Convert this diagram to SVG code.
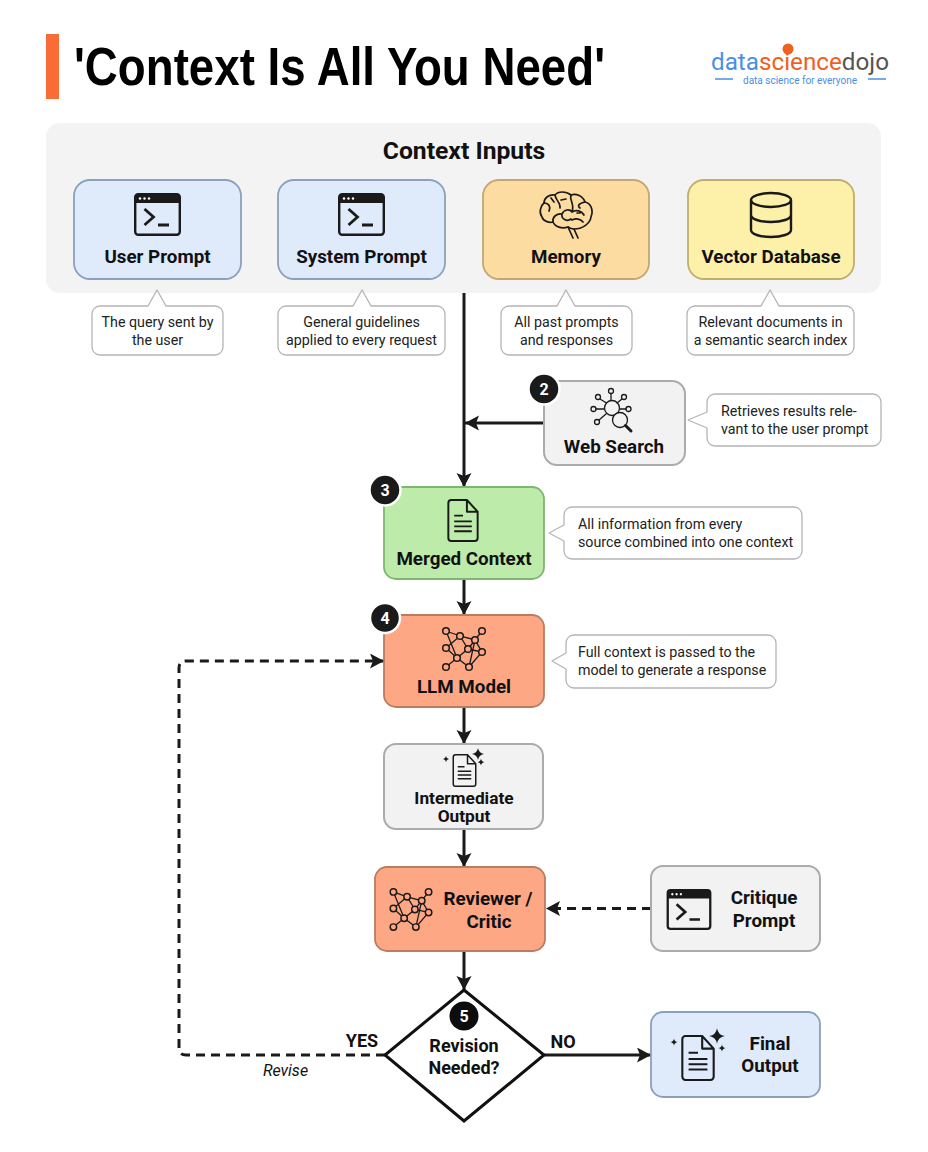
<svg xmlns="http://www.w3.org/2000/svg" xmlns:xlink="http://www.w3.org/1999/xlink" width="928" height="1152" viewBox="0 0 928 1152">
<style>
text{font-family:Roboto,"Liberation Sans",sans-serif;fill:#111}
.lbl{font-size:18.8px;font-weight:700;text-anchor:middle}
.cap{font-size:14.25px;fill:#222}
.mid{text-anchor:middle}
.call{fill:#fff;stroke:#b5b5b5;stroke-width:1.3;stroke-linejoin:round}
.blue{fill:#dfeafb;stroke:#8aa0bd;stroke-width:1.8}
.orange{fill:#fddca2;stroke:#c3a772;stroke-width:1.8}
.yellow{fill:#fdf0a8;stroke:#bfae6e;stroke-width:1.8}
.gray{fill:#f2f2f2;stroke:#ababab;stroke-width:2}
.green{fill:#bdeba9;stroke:#7fb772;stroke-width:1.8}
.red{fill:#fda785;stroke:#bb7c63;stroke-width:1.8}
.badge circle{fill:#1a1a1a;stroke:#fff;stroke-width:2.5}
.badge text{fill:#fff;font-size:16px;font-weight:700;text-anchor:middle}
.ln{fill:none;stroke:#1a1a1a;stroke-width:3}
.dash{fill:none;stroke:#1a1a1a;stroke-width:3;stroke-dasharray:9 6}
.ic{fill:none;stroke:#1a1a1a;stroke-width:2;stroke-linejoin:round;stroke-linecap:round}
</style>
<defs>
<marker id="arr" markerUnits="userSpaceOnUse" markerWidth="16" markerHeight="16" refX="14" refY="7.5" orient="auto"><path d="M0 0L14 7.5L0 15L3 7.5Z" fill="#1a1a1a"/></marker>
<symbol id="term" viewBox="0 0 47 43" overflow="visible">
<rect x="1.2" y="1.2" width="44.6" height="40.6" rx="3" fill="none" stroke="#1a1a1a" stroke-width="2.4"/>
<path d="M1 4a3 3 0 0 1 3-3h39a3 3 0 0 1 3 3v6H1Z" fill="#1a1a1a"/>
<circle cx="6" cy="5.5" r="1.2" fill="#fff"/><circle cx="10.500" cy="5.5" r="1.2" fill="#fff"/><circle cx="15" cy="5.5" r="1.2" fill="#fff"/>
<path d="M10.500 16L19.500 24L10.500 32M24 32H35" fill="none" stroke="#1a1a1a" stroke-width="2.800"/>
</symbol>
<symbol id="net" viewBox="0 0 44 44" overflow="visible">
<path d="M4 4L18 9L33 13L40 4M18 9L4 21L15 31L4 40M18 9L26 22L33 13L40 25L27 40L15 31L26 22L40 25M33 13L27 40M4 4L15 31" fill="none" stroke="#1a1a1a" stroke-width="1.300"/>
<g fill="#fda785" stroke="#1a1a1a" stroke-width="1.500">
<circle cx="4" cy="4" r="3.300"/><circle cx="40" cy="4" r="3.300"/><circle cx="18" cy="9" r="3.300"/><circle cx="33" cy="13" r="3.300"/><circle cx="4" cy="21" r="3.300"/><circle cx="26" cy="22" r="3.300"/><circle cx="40" cy="25" r="3.300"/><circle cx="15" cy="31" r="3.300"/><circle cx="4" cy="40" r="3.300"/><circle cx="27" cy="40" r="3.300"/>
</g>
</symbol>
<symbol id="doc" viewBox="0 0 32 44" overflow="visible">
<path d="M4 1H20L31 13V40a3 3 0 0 1-3 3H4a3 3 0 0 1-3-3V4a3 3 0 0 1 3-3ZM20 1V13H31" fill="none" stroke="#1a1a1a" stroke-width="2" stroke-linejoin="round"/>
<path d="M7 17H16M7 23H25M7 28H25M7 33H25" fill="none" stroke="#1a1a1a" stroke-width="1.800"/>
</symbol>
<path id="star" d="M0-6Q.8-.8 6 0Q.8.8 0 6Q-.8.8-6 0Q-.8-.8 0-6Z" fill="#1a1a1a"/>
</defs>

<rect width="928" height="1152" fill="#fff"/>
<g id="header">
<rect x="46" y="34" width="13" height="65" fill="#f96c36"/>
<text x="74" y="85" font-size="53" font-weight="700" style="font-family:'Liberation Sans',Arial,sans-serif;fill:#000" textLength="531" lengthAdjust="spacingAndGlyphs">'Context Is All You Need'</text>
</g>
<g id="logo">
<text x="711" y="69.500" font-size="23" textLength="178" lengthAdjust="spacingAndGlyphs"><tspan style="fill:#4a8fe3">data</tspan><tspan style="fill:#f0601f">science</tspan><tspan style="fill:#555">dojo</tspan></text>
<circle cx="788" cy="49" r="5.500" fill="#f0601f"/>
<path d="M715 79H733M868 79H886" stroke="#4a8fe3" stroke-width="1.500"/>
<text x="800" y="84" class="mid" font-size="10" style="fill:#4a8fe3">data science for everyone</text>
</g>

<g id="context-inputs">
<rect x="46" y="123" width="835" height="170" rx="14" fill="#f3f3f3"/>
<text x="464" y="159" class="mid" font-size="24.700" font-weight="700">Context Inputs</text>
</g>

<g id="connectors">
<path class="ln" d="M464 293V487" marker-end="url(#arr)"/>
<path class="ln" d="M544 423H465" marker-end="url(#arr)"/>
<path class="ln" d="M464 579V615" marker-end="url(#arr)"/>
<path class="ln" d="M464 707V744" marker-end="url(#arr)"/>
<path class="ln" d="M464 829V867" marker-end="url(#arr)"/>
<path class="ln" d="M464 951V990" marker-end="url(#arr)"/>
<path class="dash" d="M651 908.500H546" marker-end="url(#arr)"/>
<path class="ln" d="M544 1055H651" marker-end="url(#arr)"/>
<path class="dash" d="M385 1055H186Q179 1055 179 1048V668Q179 661 186 661H384" marker-end="url(#arr)"/>
</g>

<g id="user-prompt">
<rect class="blue" x="74" y="180" width="167" height="99" rx="16"/>
<use xlink:href="#term" x="134" y="193" width="47" height="43"/>
<text class="lbl" x="157.500" y="263">User Prompt</text>
</g>
<g id="user-prompt-note">
<path class="call" d="M100 306H148L157 290L166 306H215a8 8 0 0 1 8 8V347a8 8 0 0 1-8 8H100a8 8 0 0 1-8-8V314a8 8 0 0 1 8-8Z"/>
<text class="cap mid" x="157.500" y="327">The query sent by</text><text class="cap mid" x="157.500" y="345">the user</text>
</g>
<g id="system-prompt">
<rect class="blue" x="278" y="180" width="167" height="99" rx="16"/>
<use xlink:href="#term" x="338" y="193" width="47" height="43"/>
<text class="lbl" x="361.500" y="263">System Prompt</text>
</g>
<g id="system-prompt-note">
<path class="call" d="M286 306H353L362 290L371 306H437a8 8 0 0 1 8 8V347a8 8 0 0 1-8 8H286a8 8 0 0 1-8-8V314a8 8 0 0 1 8-8Z"/>
<text class="cap mid" x="361.500" y="327">General guidelines</text><text class="cap mid" x="361.500" y="345">applied to every request</text>
</g>
<g id="memory">
<rect class="orange" x="483" y="180" width="166" height="99" rx="16"/>
<g class="ic" style="stroke-width:1.700">
<path d="M574 229C582 229 590 224 591 217C594 209 590 203 585 202C583 196 576 193 571 195C566 191 558 191 555 195C549 194 544 198 544 203C540 206 539 213 542 217C543 221 549 223 553 222C555 227 562 229 568 227C571 229 573 229 574 229Z"/>
<path d="M568 227L573 238M574 229L578 238M553 222C552 217 557 213 562 214C564 209 570 209 572 212C576 209 582 211 584 215M555 195C556 201 561 203 560 208M571 195C569 200 575 204 572 212M544 203C549 203 551 207 549 211M585 202C579 203 577 206 580 208M562 214C561 219 567 222 571 219M572 220C576 218 581 219 583 222M551 198L554 202M561 200L566 199M577 213L580 213"/>
</g>
<text class="lbl" x="566" y="263">Memory</text>
</g>
<g id="memory-note">
<path class="call" d="M509 306H557L566 290L575 306H624a8 8 0 0 1 8 8V347a8 8 0 0 1-8 8H509a8 8 0 0 1-8-8V314a8 8 0 0 1 8-8Z"/>
<text class="cap mid" x="566.500" y="327">All past prompts</text><text class="cap mid" x="566.500" y="345">and responses</text>
</g>
<g id="vector-database">
<rect class="yellow" x="688" y="180" width="166" height="99" rx="16"/>
<g fill="none" stroke="#1a1a1a" stroke-width="2.400">
<ellipse cx="771" cy="200" rx="20" ry="7"/>
<path d="M751 200V230C751 234 760 237 771 237S791 234 791 230V200M751 215C751 219 760 222 771 222S791 219 791 215"/>
</g>
<text class="lbl" x="771" y="263">Vector Database</text>
</g>
<g id="vector-database-note">
<path class="call" d="M695 306H761L770 290L779 306H846a8 8 0 0 1 8 8V347a8 8 0 0 1-8 8H695a8 8 0 0 1-8-8V314a8 8 0 0 1 8-8Z"/>
<text class="cap mid" x="770.500" y="327">Relevant documents in</text><text class="cap mid" x="770.500" y="345">a semantic search index</text>
</g>

<g id="web-search">
<rect class="gray" x="544" y="381" width="141" height="84" rx="13"/>
<g class="ic" style="stroke-width:1.300">
<circle cx="612" cy="408" r="7.500"/><circle cx="620" cy="420" r="7.500" fill="#f2f2f2"/>
<path d="M625.500 425.500L631 431" style="stroke-width:3"/>
<path d="M611 393.500V400M600 399L606.500 403M622 399L617 403M596 409H604M626 409H620M599 420L606 414"/>
<circle cx="611" cy="391" r="2.500"/><circle cx="598" cy="397" r="2.500"/><circle cx="624" cy="397" r="2.500"/><circle cx="593.500" cy="409" r="2.500"/><circle cx="628.500" cy="409" r="2.500"/><circle cx="597" cy="422" r="2.500"/>
</g>
<text class="lbl" x="614" y="453">Web Search</text>
<g class="badge"><circle cx="544" cy="389" r="15.500"/><text x="544" y="395">2</text></g>
</g>
<g id="web-search-note">
<path class="call" d="M715 394H873a8 8 0 0 1 8 8V438a8 8 0 0 1-8 8H715a8 8 0 0 1-8-8V428L688 420L707 412V402a8 8 0 0 1 8-8Z"/>
<text class="cap" x="721" y="416">Retrieves results rele-</text><text class="cap" x="721" y="434">vant to the user prompt</text>
</g>

<g id="merged-context">
<rect class="green" x="384" y="487" width="160" height="92" rx="12"/>
<use xlink:href="#doc" x="447" y="499" width="32" height="43"/>
<text class="lbl" x="464" y="565">Merged Context</text>
<g class="badge"><circle cx="385" cy="490" r="15.500"/><text x="385" y="496">3</text></g>
</g>
<g id="merged-context-note">
<path class="call" d="M572 507H794a8 8 0 0 1 8 8V551a8 8 0 0 1-8 8H572a8 8 0 0 1-8-8V541L549 533L564 525V515a8 8 0 0 1 8-8Z"/>
<text class="cap" x="578" y="529">All information from every</text><text class="cap" x="578" y="547">source combined into one context</text>
</g>

<g id="llm-model">
<rect class="red" x="384" y="615" width="160" height="92" rx="12"/>
<use xlink:href="#net" x="442" y="627" width="44" height="44"/>
<text class="lbl" x="464" y="693">LLM Model</text>
<g class="badge"><circle cx="385" cy="618" r="15"/><text x="385" y="624">4</text></g>
</g>
<g id="llm-model-note">
<path class="call" d="M574 635H768a8 8 0 0 1 8 8V680a8 8 0 0 1-8 8H574a8 8 0 0 1-8-8V669L552 661L566 653V643a8 8 0 0 1 8-8Z"/>
<text class="cap" x="578" y="657">Full context is passed to the</text><text class="cap" x="578" y="675">model to generate a response</text>
</g>

<g id="intermediate-output">
<rect class="gray" x="384" y="744" width="159" height="85" rx="12"/>
<use xlink:href="#doc" x="452" y="754" width="25" height="33"/>
<use xlink:href="#star" transform="translate(478,754)"/>
<use xlink:href="#star" transform="translate(481,762) scale(.6)"/>
<use xlink:href="#star" transform="translate(446,759) scale(.5)"/>
<text class="lbl" style="font-size:17.3px"><tspan x="464" y="804">Intermediate</tspan><tspan x="464" y="822">Output</tspan></text>
</g>

<g id="reviewer-critic">
<rect class="red" x="375" y="867" width="170" height="84" rx="12"/>
<use xlink:href="#net" x="389" y="888" width="44" height="43"/>
<text class="lbl" x="488" y="905">Reviewer /</text>
<text class="lbl" x="489" y="928">Critic</text>
</g>

<g id="critique-prompt">
<rect class="gray" x="651" y="866" width="169" height="85" rx="12"/>
<use xlink:href="#term" x="666" y="889" width="46" height="41"/>
<text class="lbl" x="764" y="904">Critique</text>
<text class="lbl" x="764" y="927">Prompt</text>
</g>

<g id="revision-needed">
<path d="M464 990L544 1055L464 1121L385 1055Z" fill="#fff" stroke="#111" stroke-width="3" stroke-linejoin="miter"/>
<circle cx="464" cy="1016" r="14.500" fill="#0d0d0d"/>
<text x="464" y="1022" font-size="16" font-weight="700" text-anchor="middle" style="fill:#fff">5</text>
<text class="lbl" x="464" y="1052" style="font-size:18px">Revision</text>
<text class="lbl" x="464" y="1074" style="font-size:18px">Needed?</text>
</g>

<g id="final-output">
<rect class="blue" x="651" y="1012" width="169" height="85" rx="12"/>
<use xlink:href="#doc" x="681" y="1035" width="34" height="46"/>
<use xlink:href="#star" transform="translate(717,1036) scale(1.300)"/>
<use xlink:href="#star" transform="translate(722,1048) scale(.6)"/>
<use xlink:href="#star" transform="translate(674,1042) scale(.6)"/>
<text class="lbl" x="770" y="1050">Final</text>
<text class="lbl" x="770" y="1072">Output</text>
</g>

<g id="edge-labels">
<text x="362" y="1047" class="mid" font-size="18" font-weight="700">YES</text>
<text x="563" y="1048" class="mid" font-size="18" font-weight="700">NO</text>
<text x="285.500" y="1076" class="mid" font-size="16" font-style="italic">Revise</text>
</g>
</svg>
